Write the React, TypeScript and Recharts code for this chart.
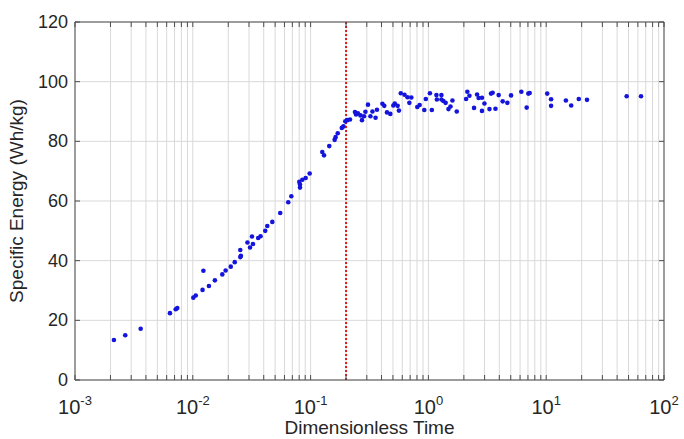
import { ScatterChart, Scatter, XAxis, YAxis, CartesianGrid, ReferenceLine } from 'recharts'

// dimensionless time (log axis) and specific energy
const TIME = [
  0.00214, 0.00267, 0.00361, 0.0064, 0.00716, 0.00738, 0.0101, 0.0106, 0.0123, 0.0121,
  0.0137, 0.0154, 0.0178, 0.019, 0.021, 0.0227, 0.0253, 0.0256, 0.0253, 0.0291,
  0.0306, 0.0324, 0.0318, 0.0359, 0.0376, 0.0412, 0.0429, 0.0473, 0.0552, 0.0646,
  0.0686, 0.0813, 0.0813, 0.0802, 0.0851, 0.0908, 0.0982, 0.1256, 0.13, 0.144,
  0.16, 0.163, 0.17, 0.184, 0.19, 0.197, 0.205, 0.216,
  0.238, 0.243, 0.252, 0.265, 0.273, 0.284, 0.292, 0.307, 0.322, 0.335,
  0.356, 0.366, 0.407, 0.422, 0.445, 0.475, 0.504, 0.518, 0.548, 0.562,
  0.583, 0.627, 0.665, 0.689, 0.716, 0.805, 0.843, 0.923, 0.951, 1.03,
  1.07, 1.17, 1.18, 1.29, 1.29, 1.34, 1.4, 1.48, 1.54, 1.6,
  1.74, 2.09, 2.14, 2.23, 2.44, 2.59, 2.67, 2.85, 2.85, 2.99,
  3.3, 3.4, 3.51, 3.71, 3.95, 4.27, 4.68, 5.03, 6.15, 6.83,
  7.05, 7.24, 10.2, 11.0, 11.0, 14.7, 16.3, 18.9, 22.2, 48.2, 63.8,
]
const ENERGY = [
  13.4, 15.0, 17.2, 22.4, 23.7, 24.1, 27.6, 28.3, 36.6, 30.2,
  31.5, 33.4, 35.4, 36.7, 38.0, 39.5, 41.2, 41.6, 43.6, 46.1,
  44.4, 45.6, 48.1, 47.6, 48.2, 50.0, 51.6, 53.0, 56.0, 59.6,
  61.6, 64.5, 65.5, 66.4, 67.1, 67.7, 69.2, 76.4, 75.3, 78.4,
  80.5, 81.4, 82.7, 84.5, 85.0, 86.7, 87.1, 87.3,
  89.8, 89.0, 89.4, 88.7, 87.1, 88.4, 89.9, 92.3, 88.4, 90.0,
  87.9, 90.6, 92.6, 91.9, 89.7, 89.2, 92.0, 92.7, 91.9, 90.3,
  96.1, 95.6, 94.8, 92.9, 94.7, 91.5, 92.2, 90.5, 94.2, 96.1,
  90.5, 95.5, 94.0, 95.5, 94.0, 93.5, 92.9, 90.8, 91.7, 93.7,
  90.0, 94.2, 96.6, 95.3, 91.2, 95.7, 94.5, 94.6, 90.2, 92.7,
  90.8, 96.0, 96.3, 90.9, 95.5, 93.4, 92.9, 95.4, 96.6, 91.3,
  96.0, 96.2, 96.0, 94.1, 91.9, 93.7, 92.0, 94.2, 93.9, 95.1, 95.1,
]

const X_MAJOR = [0.001, 0.01, 0.1, 1, 10, 100]
const X_EXP = ['-3', '-2', '-1', '0', '1', '2']
const MINOR_STEPS = [1, 2, 3, 4, 5, 6, 7, 8, 9]
const Y_TICKS = [0, 20, 40, 60, 80, 100, 120]
const CUTOFF = 0.2

const X_TICKS = X_MAJOR.slice(0, -1)
  .flatMap(d => MINOR_STEPS.map(m => m * d))
  .concat([X_MAJOR[X_MAJOR.length - 1]])

const W = 684
const H = 439
const MARGIN = { top: 22, right: 20, bottom: 0, left: 0 }
const Y_AXIS_W = 75
const X_AXIS_H = 59
const PLOT_W = W - MARGIN.left - MARGIN.right - Y_AXIS_W
const PLOT_H = H - MARGIN.top - MARGIN.bottom - X_AXIS_H

const FONT = '"Liberation Sans", Arial, Helvetica, sans-serif'
const INK   = '#262626'
const FRAME = '#4d4d4d'
const GRID  = '#d9d9d9'
const BLUE  = '#1414dc'
const RED   = '#e01818'
const TICK  = 5

const data = TIME.map((t, i) => ({ t, e: ENERGY[i] }))

function XTick({ x, y, payload }: any) {
  const v = payload.value
  const k = X_MAJOR.findIndex(m => Math.abs(m - v) / m < 1e-6)
  return (
    <g>
      <line x1={x} y1={y} x2={x} y2={y - TICK} stroke={FRAME} />
      <line x1={x} y1={y - PLOT_H} x2={x} y2={y - PLOT_H + TICK} stroke={FRAME} />
      {k >= 0 && (
        <text x={x} y={y + 34} textAnchor="middle" fontSize={20} fill={INK} fontFamily={FONT}>
          10<tspan dy={-9} fontSize={13}>{X_EXP[k]}</tspan>
        </text>
      )}
    </g>
  )
}

function YTick({ x, y, payload }: any) {
  return (
    <g>
      <line x1={x} y1={y} x2={x + TICK} y2={y} stroke={FRAME} />
      <line x1={x + PLOT_W} y1={y} x2={x + PLOT_W - TICK} y2={y} stroke={FRAME} />
      <text x={x - 7} y={y} dy={6} textAnchor="end" fontSize={18} fill={INK} fontFamily={FONT}>
        {payload.value}
      </text>
    </g>
  )
}

function Dot({ cx, cy }: any) {
  return <circle cx={cx} cy={cy} r={2.3} fill={BLUE} />
}

export default function App() {
  return (
    <div style={{ position: 'absolute', left: 0, top: 0, width: W, height: H, background: '#fff' }}>
      <ScatterChart width={W} height={H} margin={MARGIN}>
        <CartesianGrid stroke={GRID} />
        <XAxis
          dataKey="t" type="number" scale="log" domain={[0.001, 100]} allowDataOverflow
          ticks={X_TICKS} interval={0} tick={<XTick />}
          tickLine={false} tickSize={0} tickMargin={0}
          axisLine={{ stroke: FRAME }} height={X_AXIS_H}
          label={{
            value: 'Dimensionless Time', position: 'insideBottom', offset: 5,
            fontSize: 19, fill: INK, fontFamily: FONT,
          }}
        />
        <YAxis
          dataKey="e" type="number" domain={[0, 120]} allowDataOverflow
          ticks={Y_TICKS} interval={0} tick={<YTick />}
          tickLine={false} tickSize={0} tickMargin={0}
          axisLine={{ stroke: FRAME }} width={Y_AXIS_W}
          label={{
            content: ({ viewBox }: any) => {
              const cy = viewBox.y + viewBox.height / 2
              const cx = 23
              return (
                <text x={cx} y={cy} transform={`rotate(-90 ${cx} ${cy})`} textAnchor="middle"
                  fontSize={19} fill={INK} fontFamily={FONT}>
                  Specific Energy (Wh/kg)
                </text>
              )
            },
          }}
        />
        <Scatter data={data} shape={<Dot />} isAnimationActive={false} />
        <ReferenceLine y={120} stroke={FRAME} />
        <ReferenceLine x={100} stroke={FRAME} />
        <ReferenceLine x={CUTOFF} stroke={RED} strokeWidth={2} strokeDasharray="2 2" />
      </ScatterChart>
    </div>
  )
}
